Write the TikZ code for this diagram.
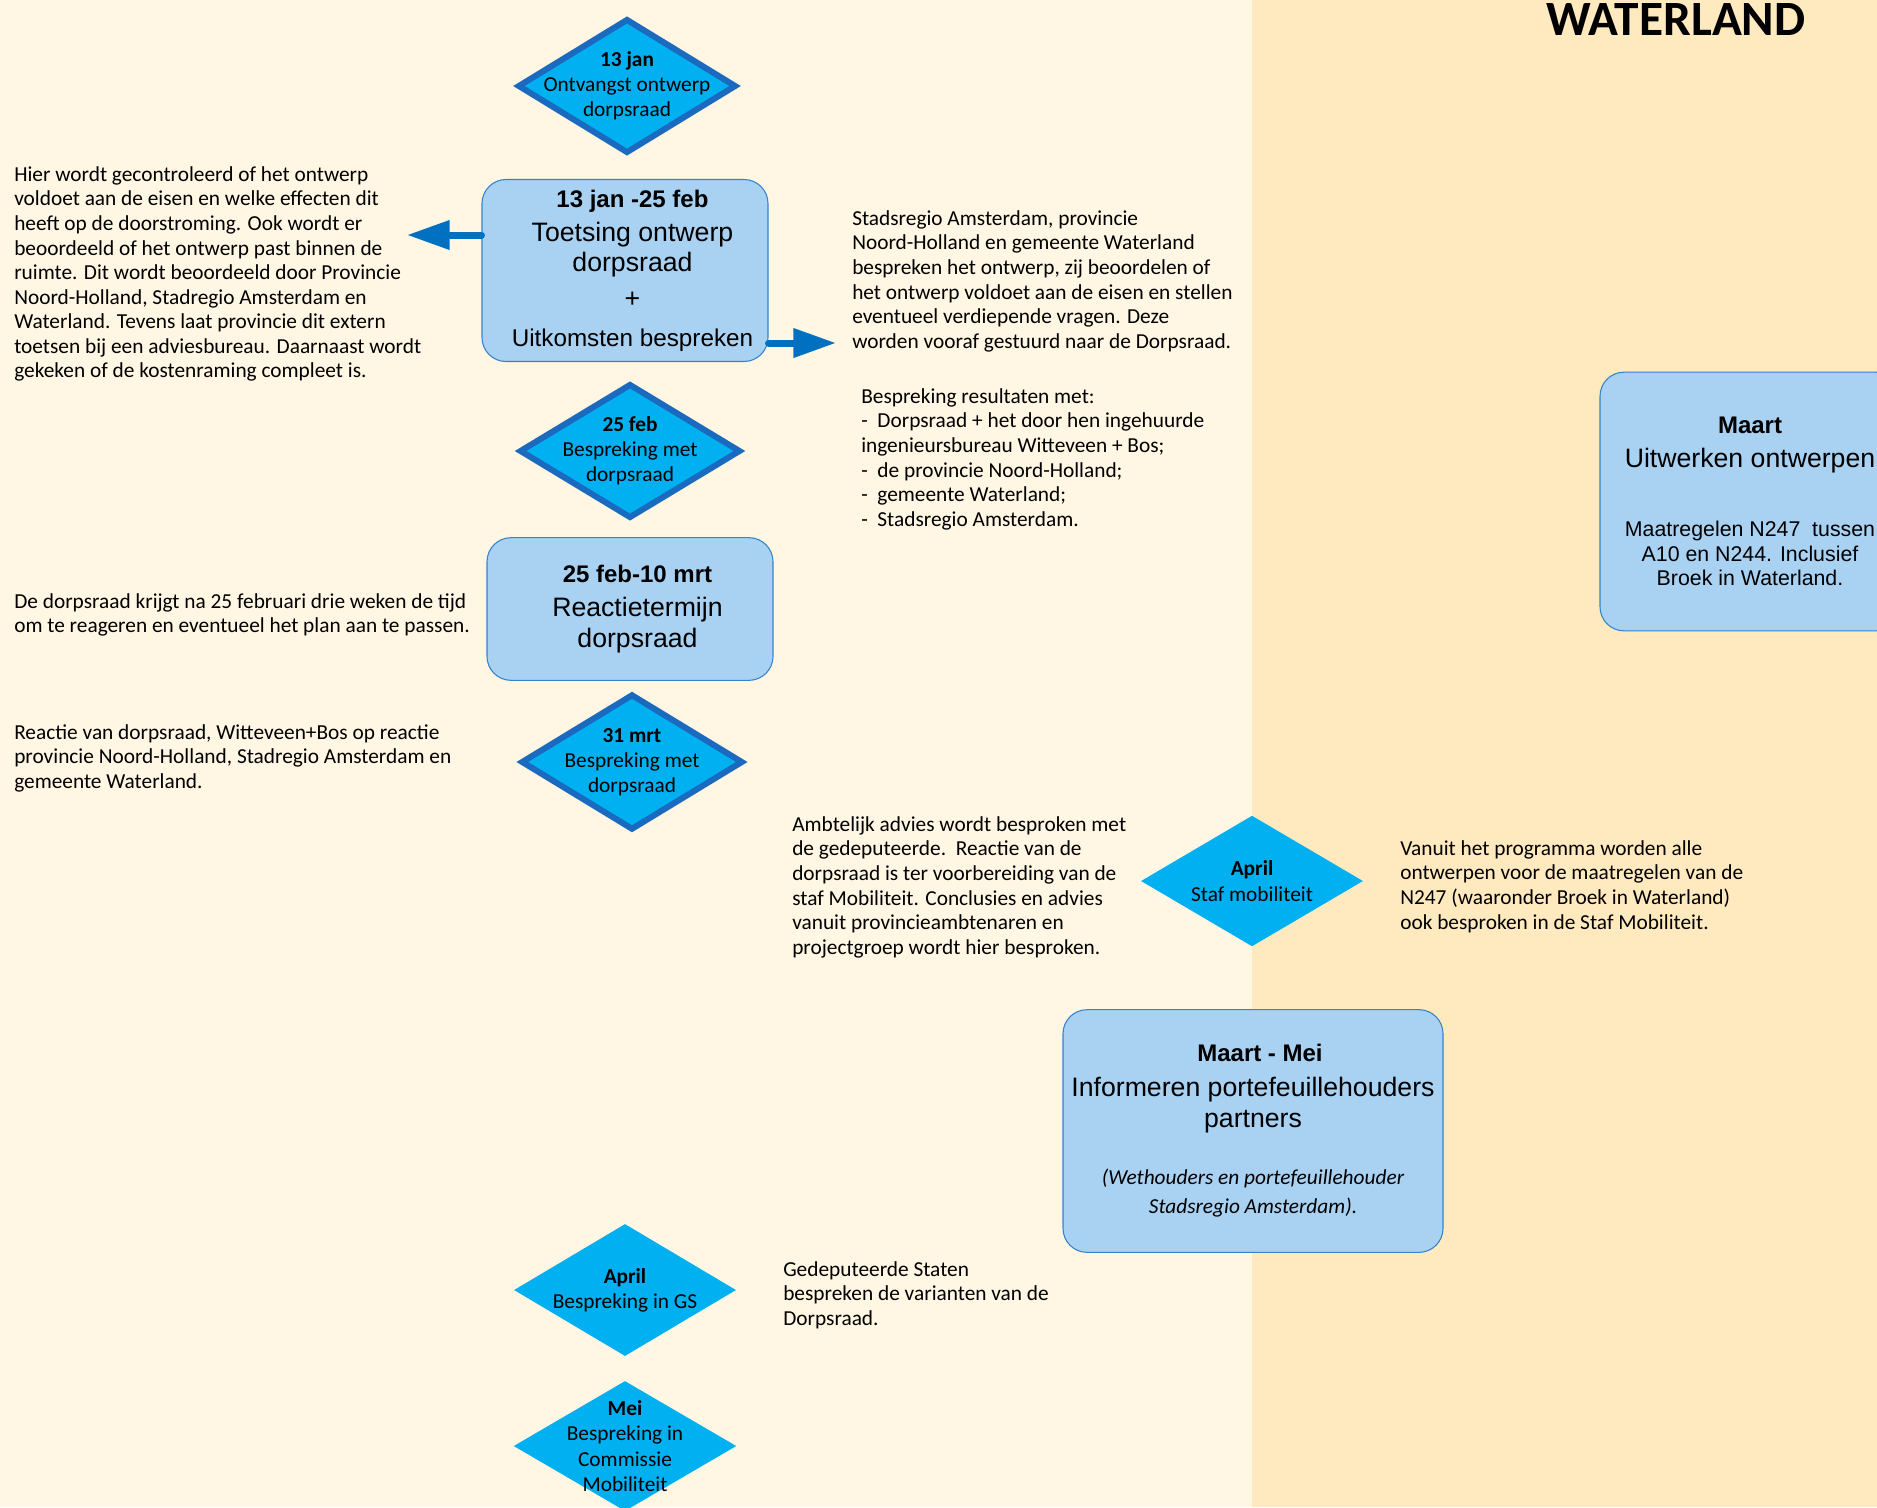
\documentclass[tikz,border=0pt]{standalone}
\usepackage{fontspec}
\setmainfont{Liberation Sans}
\newfontfamily\calibri{Carlito}
\usetikzlibrary{shapes.geometric,arrows.meta}
\definecolor{creme}{RGB}{255,246,227}
\definecolor{zand}{RGB}{255,233,190}
\definecolor{ruitblauw}{RGB}{0,176,240}
\definecolor{ruitrand}{RGB}{26,107,191}
\definecolor{vakblauw}{RGB}{169,209,242}
\definecolor{vakrand}{RGB}{52,132,204}
\definecolor{pijlblauw}{RGB}{0,112,192}

\begin{document}
\begin{tikzpicture}[x=0.75pt,y=-0.75pt,
    ruit/.style={diamond,fill=ruitblauw,inner sep=0pt},
    dikkerand/.style={draw=ruitrand,line width=4.5pt},
    vak/.style={rectangle,rounded corners=18pt,fill=vakblauw,draw=vakrand,line width=0.8pt,
      align=center,inner sep=0pt,font=\fontsize{20}{23}\selectfont},
    vaktekst/.style={align=center,inner sep=0pt,font=\fontsize{20}{23}\selectfont},
    ruittekst/.style={align=center,inner sep=0pt,font=\calibri\fontsize{16}{18.9}\selectfont},
    uitleg/.style={anchor=north west,inner sep=0pt,align=left,font=\calibri\fontsize{16}{18.4}\selectfont},
    pijl/.style={-{Triangle[length=32pt,width=21pt]},line width=5.25pt,draw=pijlblauw,line cap=round}]

    \useasboundingbox (0,0) rectangle (1877,1507);
    \fill[creme] (0,0) rectangle (1252,1507);
    \fill[zand] (1252,0) rectangle (1877,1507);

    \node[anchor=base,inner sep=0pt,font=\calibri\bfseries\fontsize{37}{40}\selectfont] (titel) at (1676,35) {WATERLAND};

    % ruiten
    \node[ruit,dikkerand,minimum width=164pt,minimum height=101pt] (r1) at (627,86) {};
       \node[ruittekst] (r1t) at (r1) {\textbf{13 jan}\\Ontvangst ontwerp\\dorpsraad};
    \node[ruit,dikkerand,minimum width=166pt,minimum height=101pt] (r2) at (630,451) {};
       \node[ruittekst] (r2t) at (r2) {\textbf{25 feb}\\Bespreking met\\dorpsraad};
    \node[ruit,dikkerand,minimum width=166.5pt,minimum height=102pt] (r3) at (632,762) {};
       \node[ruittekst] (r3t) at (r3) {\textbf{31 mrt}\\Bespreking met\\dorpsraad};
    \node[ruit,minimum width=166.5pt,minimum height=98pt] (r4) at (1252,881) {};
       \node[ruittekst] (r4t) at (r4) {\textbf{April}\\Staf mobiliteit};
    \node[ruit,minimum width=166.5pt,minimum height=99pt] (r5) at (625,1290) {};
       \node[ruittekst] (r5t) at (r5) {\textbf{April}\\Bespreking in GS};
    \node[ruit,minimum width=167pt,minimum height=97.5pt] (r6) at (625,1446) {};
       \node[ruittekst] (r6t) at (r6) {\textbf{Mei}\\Bespreking in\\Commissie\\Mobiliteit};

    % vakken
    \node[vak,minimum width=214.5pt,minimum height=136.5pt] (v1) at (625,270.5) {};
       \node[vaktekst] (v1t) at ([xshift=5.6pt]v1.center)
         {{\bfseries\fontsize{18}{23}\selectfont 13 jan -25 feb}\\[2.5pt]Toetsing ontwerp\\dorpsraad\\[4pt]+\\[6pt]
          {\fontsize{18.2}{23}\selectfont Uitkomsten bespreken}};
    \node[vak,minimum width=214.5pt,minimum height=107pt] (v2) at (630,609) {};
       \node[vaktekst] (v2t) at ([xshift=5.6pt]v2.center)
         {{\bfseries\fontsize{18}{23}\selectfont 25 feb-10 mrt}\\[3pt]Reactietermijn\\dorpsraad};
    \node[vak,minimum width=285pt,minimum height=182pt] (v3) at (1253,1131)
      {{\bfseries\fontsize{18}{23}\selectfont\hspace*{10.5pt}Maart - Mei}\\[3pt]Informeren portefeuillehouders\\partners\\[20pt]
       {\calibri\itshape\fontsize{16}{21.4}\selectfont (Wethouders en portefeuillehouder}\\[-1pt]
       {\calibri\itshape\fontsize{16}{21.4}\selectfont Stadsregio Amsterdam).}};
    \node[vak,minimum width=225pt,minimum height=194pt] (v4) at (1750,501.5)
      {{\bfseries\fontsize{18}{23}\selectfont Maart}\\[2.5pt]Uitwerken ontwerpen\\[29pt]
       {\fontsize{16}{18.4}\selectfont Maatregelen N247\ \ tussen}\\[-4.6pt]
       {\fontsize{16}{18.4}\selectfont A10 en N244. Inclusief}\\[-4.6pt]
       {\fontsize{16}{18.4}\selectfont Broek in Waterland.}};

    % pijlen
    \coordinate (links) at (407,235);
    \coordinate (rechts) at (836,343);
    \draw[pijl] (v1.west |- links) -- (links);
    \draw[pijl] (v1.east |- rechts) -- (rechts);

    % toelichting
    \node[uitleg] (u1) at (14,164) {\strut Hier wordt gecontroleerd of het ontwerp\\
      voldoet aan de eisen en welke effecten dit\\
      heeft op de doorstroming. Ook wordt er\\
      beoordeeld of het ontwerp past binnen de\\
      ruimte. Dit wordt beoordeeld door Provincie\\
      Noord-Holland, Stadregio Amsterdam en\\
      Waterland. Tevens laat provincie dit extern\\
      toetsen bij een adviesbureau. Daarnaast wordt\\
      gekeken of de kostenraming compleet is.};
    \node[uitleg] (u2) at (852,208) {\strut Stadsregio Amsterdam, provincie\\
      Noord-Holland en gemeente Waterland\\
      bespreken het ontwerp, zij beoordelen of\\
      het ontwerp voldoet aan de eisen en stellen\\
      eventueel verdiepende vragen. Deze\\
      worden vooraf gestuurd naar de Dorpsraad.};
    \node[uitleg] (u3) at (861,386) {\strut Bespreking resultaten met:\\
      -\ \ Dorpsraad + het door hen ingehuurde\\
      ingenieursbureau Witteveen + Bos;\\
      -\ \ de provincie Noord-Holland;\\
      -\ \ gemeente Waterland;\\
      -\ \ Stadsregio Amsterdam.};
    \node[uitleg] (u4) at (14,591) {\strut De dorpsraad krijgt na 25 februari drie weken de tijd\\
      om te reageren en eventueel het plan aan te passen.};
    \node[uitleg] (u5) at (14,722) {\strut Reactie van dorpsraad, Witteveen+Bos op reactie\\
      provincie Noord-Holland, Stadregio Amsterdam en\\
      gemeente Waterland.};
    \node[uitleg] (u6) at (792,814) {\strut Ambtelijk advies wordt besproken met\\
      de gedeputeerde.\ \ Reactie van de\\
      dorpsraad is ter voorbereiding van de\\
      staf Mobiliteit. Conclusies en advies\\
      vanuit provincieambtenaren en\\
      projectgroep wordt hier besproken.};
    \node[uitleg] (u7) at (1400,838) {\strut Vanuit het programma worden alle\\
      ontwerpen voor de maatregelen van de\\
      N247 (waaronder Broek in Waterland)\\
      ook besproken in de Staf Mobiliteit.};
    \node[uitleg] (u8) at (783,1259) {\strut Gedeputeerde Staten\\
      bespreken de varianten van de\\
      Dorpsraad.};
  \end{tikzpicture}
\end{document}
